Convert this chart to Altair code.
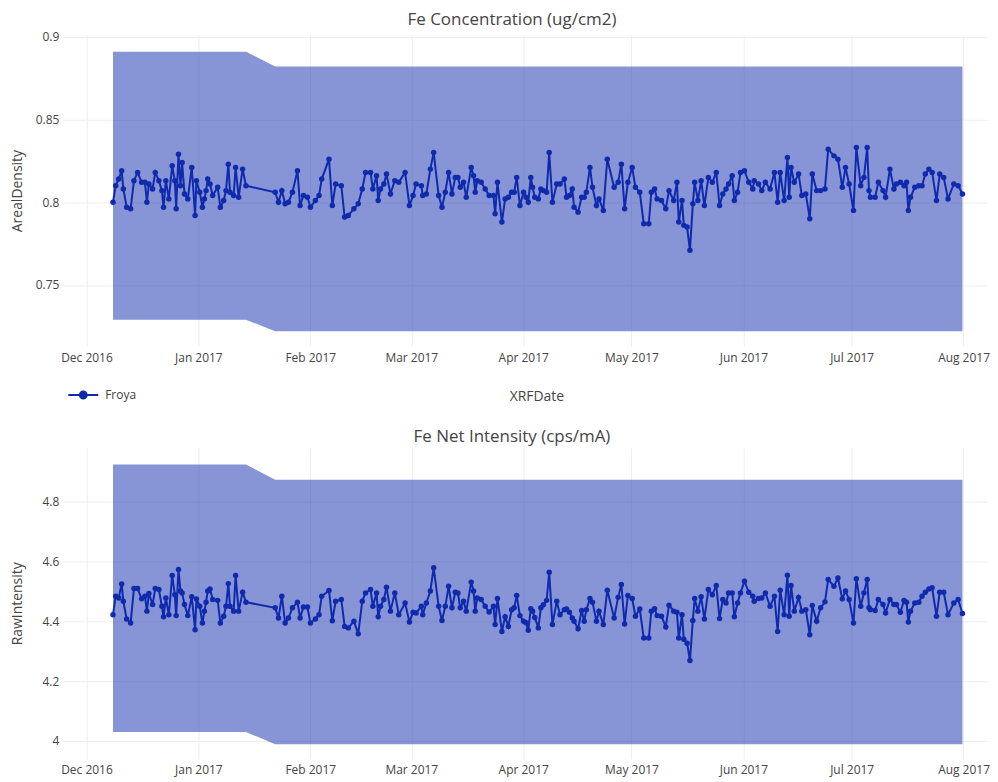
import altair as alt
import pandas as pd

site = "Froya"

# days after 2016-12-01 (fractional: several samples a day at times)
days_since_2016_12_01 = [
    7.36, 8.10, 8.93, 9.76, 10.22, 11.14, 12.24, 13.16, 14.18, 15.28,
    16.20, 16.75, 17.31, 18.32, 19.06, 20.07, 20.90, 21.36, 22.00, 22.83,
    23.75, 24.49, 24.86, 25.50, 26.05, 26.51, 27.16, 28.08, 29.18, 30.10,
    30.47, 31.39, 32.13, 32.68, 33.14, 33.60, 34.24, 34.98, 36.36, 37.10,
    38.02, 38.66, 39.31, 39.77, 40.78, 41.33, 42.16, 43.27, 44.19,
    52.29, 53.21, 54.13, 55.05, 55.97, 57.07, 58.46, 59.19, 60.11, 61.22,
    62.05, 63.43, 64.44, 65.18, 67.20, 68.12, 69.04, 70.61, 71.53, 72.54,
    74.10, 75.30, 76.41, 77.33, 78.71, 79.35, 80.37, 80.83, 81.47, 82.39,
    83.13, 84.23, 85.43, 86.53, 88.28, 89.48, 90.49, 91.32, 92.79, 93.16,
    94.17, 95.28, 96.20, 97.58, 98.50, 99.42, 100.34, 101.26, 102.18, 102.92,
    103.56, 104.48, 105.22, 106.60, 107.25, 107.71, 108.26, 109.36, 110.47, 111.57,
    112.77, 113.23, 113.87,
    115.1, 116.0, 116.9, 117.8, 118.5, 119.2, 120.1, 121.1, 121.8, 122.4,
    123.1, 123.6, 124.2, 125.2, 125.9, 126.6, 127.5, 128.2, 129.1, 130.3,
    131.2, 132.4, 133.0, 133.8, 134.6, 135.1, 136.2, 137.2, 137.9, 138.5,
    139.5, 140.2, 141.3, 142.0, 143.2, 144.3, 146.2, 147.3, 148.2, 149.1,
    150.0, 151.2, 152.1, 153.3, 154.4, 155.8, 156.5, 157.4, 158.1, 159.3,
    160.5, 161.4, 162.7, 163.6, 164.1, 165.0, 165.5, 166.4, 167.2, 168.0,
    168.5, 169.4, 170.3, 171.2, 172.3, 173.4, 174.5, 175.4, 176.3, 177.2,
    177.9, 178.9, 179.5, 180.4, 181.2, 182.3, 183.5, 184.6, 185.0, 186.2,
    187.1, 188.1, 189.4, 190.6, 191.5, 192.2, 193.3, 194.2, 194.7, 195.2,
    196.1, 197.3, 198.2, 199.3, 200.4, 201.1, 202.3, 203.4, 204.6, 205.5,
    207.1, 208.2, 209.4, 210.3, 211.3, 212.5, 213.3, 214.5, 215.4, 216.3,
    216.8, 217.2, 218.5, 219.4, 220.7, 221.4, 222.6, 223.7, 224.4, 225.5,
    226.5, 227.2, 227.7, 228.3, 229.5, 230.6, 231.5, 232.4, 233.4, 234.3,
    235.5, 236.4, 237.5, 238.7, 240.3, 241.5, 242.7,
]

areal_density = [
    0.800, 0.810, 0.814, 0.819, 0.808, 0.797, 0.796, 0.813, 0.818, 0.812,
    0.812, 0.800, 0.811, 0.808, 0.818, 0.813, 0.807, 0.797, 0.813, 0.802,
    0.822, 0.813, 0.796, 0.829, 0.810, 0.824, 0.805, 0.802, 0.821, 0.792,
    0.813, 0.806, 0.797, 0.802, 0.807, 0.814, 0.811, 0.804, 0.809, 0.797,
    0.801, 0.807, 0.823, 0.806, 0.804, 0.821, 0.803, 0.820, 0.810,
    0.806, 0.800, 0.807, 0.799, 0.800, 0.806, 0.819, 0.798, 0.804, 0.803,
    0.797, 0.801, 0.804, 0.814, 0.826, 0.798, 0.811, 0.810, 0.791, 0.792,
    0.796, 0.799, 0.808, 0.818, 0.818, 0.808, 0.816, 0.801, 0.808, 0.811,
    0.817, 0.805, 0.813, 0.812, 0.818, 0.798, 0.804, 0.811, 0.810, 0.804,
    0.805, 0.820, 0.830, 0.804, 0.797, 0.806, 0.818, 0.805, 0.815, 0.815,
    0.809, 0.812, 0.803, 0.821, 0.816, 0.806, 0.813, 0.812, 0.808, 0.804,
    0.804, 0.793, 0.812,
    0.788, 0.802, 0.803, 0.806, 0.806, 0.815, 0.798, 0.806, 0.803, 0.800,
    0.815, 0.809, 0.803, 0.802, 0.808, 0.807, 0.806, 0.830, 0.800, 0.811,
    0.811, 0.814, 0.803, 0.804, 0.808, 0.797, 0.794, 0.803, 0.803, 0.806,
    0.821, 0.809, 0.798, 0.802, 0.795, 0.826, 0.809, 0.812, 0.823, 0.796,
    0.812, 0.821, 0.809, 0.806, 0.787, 0.787, 0.806, 0.808, 0.802, 0.801,
    0.796, 0.807, 0.801, 0.812, 0.788, 0.801, 0.786, 0.785, 0.771, 0.799,
    0.812, 0.801, 0.813, 0.798, 0.815, 0.812, 0.818, 0.798, 0.805, 0.808,
    0.811, 0.816, 0.801, 0.806, 0.818, 0.819, 0.812, 0.808, 0.813, 0.811,
    0.807, 0.812, 0.808, 0.818, 0.800, 0.818, 0.801, 0.827, 0.803, 0.821,
    0.812, 0.817, 0.804, 0.805, 0.790, 0.817, 0.807, 0.807, 0.808, 0.832,
    0.828, 0.826, 0.809, 0.821, 0.811, 0.795, 0.833, 0.810, 0.815, 0.833,
    0.807, 0.803, 0.803, 0.812, 0.807, 0.803, 0.820, 0.808, 0.811, 0.812,
    0.810, 0.812, 0.795, 0.803, 0.809, 0.810, 0.810, 0.817, 0.820, 0.818,
    0.801, 0.817, 0.815, 0.802, 0.811, 0.810, 0.805,
]

raw_intensity = [
    4.422, 4.484, 4.478, 4.525, 4.467, 4.408, 4.394, 4.510, 4.510, 4.475,
    4.484, 4.434, 4.493, 4.456, 4.510, 4.506, 4.450, 4.415, 4.478, 4.422,
    4.553, 4.489, 4.419, 4.573, 4.501, 4.495, 4.456, 4.419, 4.482, 4.372,
    4.475, 4.450, 4.394, 4.434, 4.464, 4.501, 4.508, 4.473, 4.470, 4.394,
    4.417, 4.450, 4.526, 4.450, 4.434, 4.553, 4.434, 4.497, 4.464,
    4.445, 4.411, 4.484, 4.394, 4.411, 4.445, 4.464, 4.411, 4.448, 4.448,
    4.394, 4.408, 4.422, 4.484, 4.503, 4.402, 4.467, 4.473, 4.383, 4.378,
    4.400, 4.358, 4.467, 4.495, 4.506, 4.450, 4.495, 4.415, 4.450, 4.473,
    4.514, 4.434, 4.495, 4.422, 4.461, 4.398, 4.430, 4.428, 4.450, 4.422,
    4.461, 4.501, 4.579, 4.450, 4.403, 4.450, 4.517, 4.445, 4.497, 4.495,
    4.445, 4.467, 4.434, 4.531, 4.501, 4.434, 4.478, 4.473, 4.450, 4.431,
    4.450, 4.389, 4.476,
    4.366, 4.415, 4.383, 4.439, 4.445, 4.486, 4.419, 4.400, 4.395, 4.370,
    4.442, 4.434, 4.413, 4.378, 4.445, 4.455, 4.470, 4.564, 4.389, 4.467,
    4.422, 4.439, 4.441, 4.430, 4.411, 4.400, 4.375, 4.436, 4.400, 4.439,
    4.476, 4.464, 4.400, 4.434, 4.389, 4.504, 4.411, 4.480, 4.523, 4.391,
    4.486, 4.476, 4.417, 4.441, 4.344, 4.344, 4.434, 4.442, 4.419, 4.417,
    4.381, 4.454, 4.434, 4.430, 4.344, 4.422, 4.340, 4.327, 4.269, 4.403,
    4.476, 4.434, 4.482, 4.408, 4.506, 4.489, 4.520, 4.409, 4.473, 4.461,
    4.495, 4.495, 4.415, 4.461, 4.495, 4.534, 4.497, 4.484, 4.467, 4.476,
    4.478, 4.495, 4.450, 4.484, 4.366, 4.504, 4.422, 4.554, 4.417, 4.520,
    4.434, 4.480, 4.434, 4.439, 4.355, 4.453, 4.400, 4.445, 4.465, 4.540,
    4.517, 4.545, 4.475, 4.501, 4.473, 4.394, 4.542, 4.450, 4.495, 4.540,
    4.445, 4.439, 4.436, 4.473, 4.456, 4.428, 4.473, 4.456, 4.456, 4.430,
    4.470, 4.464, 4.398, 4.434, 4.461, 4.464, 4.484, 4.497, 4.508, 4.512,
    4.417, 4.497, 4.497, 4.422, 4.461, 4.473, 4.426,
]

# control limits: first period, then the period starting at limit_change_day
limit_change_day = 50
areal_ucl = [0.891, 0.882]
areal_lcl = [0.729, 0.722]
raw_ucl = [4.924, 4.873]
raw_lcl = [4.030, 3.989]

areal_ticks = [0.75, 0.8, 0.85, 0.9]
raw_ticks = [4.0, 4.2, 4.4, 4.6, 4.8]

start = pd.Timestamp("2016-12-01")
period = [0 if d < limit_change_day else 1 for d in days_since_2016_12_01]
df = pd.DataFrame({
    "XRFDate": [start + pd.Timedelta(days=d) for d in days_since_2016_12_01],
    "ArealDensity": areal_density,
    "RawIntensity": raw_intensity,
    "Site": site,
    "ad_ucl": [areal_ucl[p] for p in period],
    "ad_lcl": [areal_lcl[p] for p in period],
    "ri_ucl": [raw_ucl[p] for p in period],
    "ri_lcl": [raw_lcl[p] for p in period],
})

LINE = "#0f2aad"
FONT = "Open Sans"
TXT = "#444444"
W, H = 927, 312
xdom = [alt.DateTime(year=2016, month=11, date=24, hours=11),
        alt.DateTime(year=2017, month=8, date=7, hours=12)]


def panel(field, lcl, ucl, ydom, yticks, yfmt, title, with_xtitle, with_legend):
    ax_kw = dict(format="%b %Y", tickCount={"interval": "month", "step": 1},
                 labelPadding=6, labelFlush=False)
    if with_xtitle:
        ax_kw.update(title="XRFDate", titleX=475, titleY=51, titleBaseline="middle",
                     titleAnchor="start", titleAlign="center")
    else:
        ax_kw.update(title=None)
    x = alt.X("XRFDate:T", scale=alt.Scale(domain=xdom), axis=alt.Axis(**ax_kw))
    yscale = alt.Scale(domain=ydom, nice=False, zero=False)
    yaxis = alt.Axis(values=yticks, format=yfmt, title=field, titleX=-45,
                     titleBaseline="middle", labelPadding=4)
    base = alt.Chart(df)
    band = base.mark_area(color=LINE, opacity=0.5).encode(
        x=x,
        y=alt.Y(f"{lcl}:Q", scale=yscale, axis=yaxis),
        y2=alt.Y2(f"{ucl}:Q"),
    )
    line_kw = dict(x=x, y=alt.Y(f"{field}:Q", scale=yscale))
    if with_legend:
        line_kw["color"] = alt.Color(
            "Site:N",
            scale=alt.Scale(domain=[site], range=[LINE]),
            legend=alt.Legend(
                orient="none", legendX=4.5, legendY=345, title=None, padding=0,
                symbolType="M-1,0H1M-0.23,0a0.23,0.23 0 1,0 0.46,0a0.23,0.23 0 1,0 -0.46,0",
                symbolSize=900, symbolStrokeWidth=2, symbolFillColor=LINE,
                symbolStrokeColor=LINE, labelOffset=6, labelFont=FONT,
                labelFontSize=12, labelColor=TXT,
            ),
        )
    line = base.mark_line(color=LINE, strokeWidth=2).encode(**line_kw)
    pts = base.mark_circle(color=LINE, size=30, opacity=1).encode(
        x=x, y=alt.Y(f"{field}:Q", scale=yscale))
    return alt.layer(band, line, pts).properties(
        width=W, height=H,
        title=alt.TitleParams(title, font=FONT, fontSize=17, fontWeight="normal",
                              color=TXT, anchor="middle", dx=-13, offset=2),
    )


top = panel("ArealDensity", "ad_lcl", "ad_ucl", [0.713, 0.901], areal_ticks, ".2~f",
            "Fe Concentration (ug/cm2)", True, True)
bottom = panel("RawIntensity", "ri_lcl", "ri_ucl", [3.94, 4.98], raw_ticks, ".1~f",
               "Fe Net Intensity (cps/mA)", False, False)

chart = alt.vconcat(top, bottom, spacing=24).properties(
    padding={"left": 3, "top": 1, "right": 0, "bottom": 0},
    background="white",
).configure_view(stroke=None).configure_axis(
    domain=False, ticks=False, tickSize=0, grid=True, gridColor="#eeeeee",
    labelFont=FONT, labelFontSize=12, labelColor=TXT,
    titleFont=FONT, titleFontSize=14, titleColor=TXT, titleFontWeight="normal",
)

chart.save("out.html", embed_options={"renderer": "svg", "actions": False})
